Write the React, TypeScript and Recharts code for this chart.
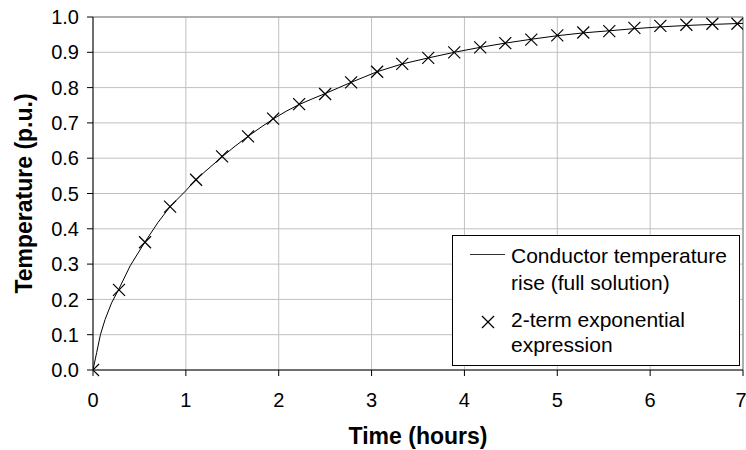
import { CartesianGrid, ComposedChart, Label, Line, ReferenceLine, Scatter, XAxis, YAxis } from 'recharts';

// full solution curve (hours, p.u.)
const lineTime = [0, 0.04, 0.08, 0.13, 0.2, 0.28, 0.4, 0.56, 0.7, 0.83, 1.0, 1.11, 1.25, 1.39, 1.53, 1.67, 1.81, 1.94, 2.08, 2.22, 2.36, 2.5, 2.64, 2.78, 2.92, 3.06, 3.33, 3.61, 3.89, 4.17, 4.44, 4.72, 5.0, 5.28, 5.56, 5.83, 6.11, 6.39, 6.67, 7.0];
const lineTemp = [0, 0.05, 0.1, 0.143, 0.19, 0.23, 0.295, 0.363, 0.418, 0.463, 0.508, 0.54, 0.572, 0.604, 0.634, 0.662, 0.688, 0.711, 0.733, 0.752, 0.768, 0.783, 0.799, 0.815, 0.83, 0.845, 0.867, 0.884, 0.9, 0.914, 0.926, 0.937, 0.947, 0.955, 0.961, 0.967, 0.972, 0.976, 0.979, 0.982];

// 2-term exponential expression markers
const markerTime = [0, 0.28, 0.56, 0.83, 1.11, 1.39, 1.67, 1.94, 2.22, 2.5, 2.78, 3.06, 3.33, 3.61, 3.89, 4.17, 4.44, 4.72, 5.0, 5.28, 5.56, 5.83, 6.11, 6.39, 6.67, 6.94];
const markerTemp = [0, 0.227, 0.362, 0.463, 0.539, 0.605, 0.662, 0.712, 0.753, 0.782, 0.815, 0.845, 0.867, 0.884, 0.9, 0.914, 0.926, 0.936, 0.948, 0.956, 0.96, 0.969, 0.975, 0.978, 0.981, 0.981];

const xTicks = [0, 1, 2, 3, 4, 5, 6, 7];
const yTicks = [0, 0.1, 0.2, 0.3, 0.4, 0.5, 0.6, 0.7, 0.8, 0.9, 1.0];

const lineData = lineTime.map((t, i) => ({ t, temp: lineTemp[i] }));
const markerData = markerTime.map((t, i) => ({ t, temp: markerTemp[i] }));

const font = '"Liberation Sans", Arial, sans-serif';

const Cross = (props: any) => {
    const { cx, cy } = props;
    const s = 6;
    return (
        <g stroke="#000" strokeWidth={1.2}>
            <line x1={cx - s} y1={cy - s} x2={cx + s} y2={cy + s} />
            <line x1={cx - s} y1={cy + s} x2={cx + s} y2={cy - s} />
        </g>
    );
};

const YTitle = (props: any) => {
    const { x, y, height } = props.viewBox;
    const cx = x + 24;
    const cy = y + height / 2;
    return (
        <text x={cx} y={cy} transform={`rotate(-90 ${cx} ${cy})`} textAnchor="middle" dominantBaseline="central"
            fontFamily={font} fontSize={23} fontWeight="bold" fill="#000">
            Temperature (p.u.)
        </text>
    );
};

const XTitle = (props: any) => {
    const { x, y, width } = props.viewBox;
    return (
        <text x={x + width / 2} y={y + 74} textAnchor="middle" fontFamily={font} fontSize={23} fontWeight="bold" fill="#000">
            Time (hours)
        </text>
    );
};

export default function App() {
    return (
        <div style={{ position: 'absolute', left: 0, top: 0, width: 746, height: 450, background: '#fff' }}>
            <ComposedChart width={746} height={450} margin={{ top: 17, right: 3, bottom: 0, left: 0 }}>
                <CartesianGrid stroke="#c0c0c0" strokeWidth={1} />
                <XAxis
                    type="number"
                    dataKey="t"
                    domain={[0, 7]}
                    ticks={xTicks}
                    height={80}
                    tickSize={6}
                    tickMargin={17}
                    stroke="#000"
                    tick={{ fill: '#000', fontSize: 20, fontFamily: font }}
                    allowDataOverflow
                >
                    <Label content={XTitle} />
                </XAxis>
                <YAxis
                    type="number"
                    domain={[0, 1]}
                    ticks={yTicks}
                    width={93}
                    tickSize={6}
                    tickMargin={8}
                    stroke="#000"
                    tickFormatter={(v: number) => v.toFixed(1)}
                    tick={{ fill: '#000', fontSize: 20, fontFamily: font }}
                >
                    <Label content={YTitle} />
                </YAxis>
                <ReferenceLine y={1} stroke="#808080" />
                <ReferenceLine x={7} stroke="#808080" />
                <Line data={lineData} dataKey="temp" type="linear" stroke="#000" strokeWidth={1} dot={false} isAnimationActive={false} />
                <Scatter data={markerData} dataKey="temp" shape={Cross} isAnimationActive={false} />
            </ComposedChart>
            <div style={{ position: 'absolute', left: 452, top: 235, width: 288, height: 131, boxSizing: 'border-box', border: '1px solid #000', background: '#fff' }}>
                <svg width={286} height={129} style={{ display: 'block' }}>
                    <g fontFamily={font} fontSize={21} fill="#000">
                        <line x1={17} y1={18.5} x2={52} y2={18.5} stroke="#333" strokeWidth={1} />
                        <text x={58} y={27}>Conductor temperature</text>
                        <text x={58} y={54}>rise (full solution)</text>
                        <Cross cx={35} cy={86} />
                        <text x={58} y={91}>2-term exponential</text>
                        <text x={58} y={116}>expression</text>
                    </g>
                </svg>
            </div>
        </div>
    );
}
